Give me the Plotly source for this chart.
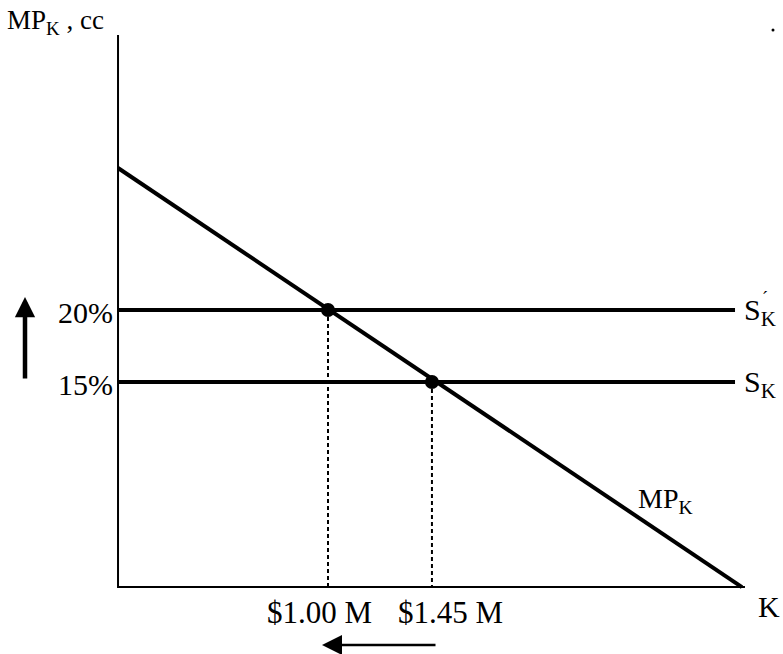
import plotly.graph_objects as go

# ---- data ----
k_equilibria = [1.00, 1.45]          # capital stock, $ millions
rate_equilibria = [20, 15]           # cost of capital, %
rate_levels = [20, 15]               # S'_K and S_K
supply_labels = ["S<sub>K</sub>", "S<sub>K</sub>"]
rate_tick_labels = ["20%", "15%"]
k_tick_labels = ["$1.00 M", "$1.45 M"]
mpk_k = [0.091, 2.792]               # MP_K schedule end points
mpk_rate = [29.86, 0.76]

K0, R0 = 0.091, 0.76                 # axis origin
K_END, R_END = 2.805, 39.1           # axis ends
S_END = 2.762                        # supply lines end

FONT = "Liberation Serif, Times New Roman, serif"

# page-pixel helpers for placing annotations (layout only)
def PX(p):
    return 1 + (p - 328) / 231

def PY(p):
    return 15 + (382 - p) / 14.4

fig = go.Figure()

# axes
fig.add_trace(go.Scatter(x=[K0, K0, K_END], y=[R_END, R0, R0], mode="lines",
                         line=dict(color="black", width=2), hoverinfo="skip"))
# supply lines
for r in rate_levels:
    fig.add_trace(go.Scatter(x=[K0, S_END], y=[r, r], mode="lines",
                             line=dict(color="black", width=4), hoverinfo="skip"))
# MPK line
fig.add_trace(go.Scatter(x=mpk_k, y=mpk_rate, mode="lines",
                         line=dict(color="black", width=4), hoverinfo="skip"))
# dashed drop lines
for k, r in zip(k_equilibria, rate_equilibria):
    fig.add_trace(go.Scatter(x=[k, k], y=[r, R0], mode="lines",
                             line=dict(color="black", width=2, dash="4px,3px"),
                             hoverinfo="skip"))
# equilibrium points
fig.add_trace(go.Scatter(x=k_equilibria, y=rate_equilibria, mode="markers",
                         marker=dict(color="black", size=14), hoverinfo="skip"))
# stray dot top-right
fig.add_trace(go.Scatter(x=[PX(773)], y=[PY(30)], mode="markers",
                         marker=dict(color="black", size=3), hoverinfo="skip"))

ann = []
def txt(x, y, t, size=22, xa="center", ya="middle"):
    ann.append(dict(x=x, y=y, text=t, showarrow=False, xanchor=xa, yanchor=ya,
                    borderpad=0,
                    font=dict(family=FONT, size=size, color="black")))

txt(PX(6), PY(22), "MP<sub>K</sub>&nbsp;, cc", 27, "left")
for r, lab in zip(rate_levels, rate_tick_labels):
    txt(PX(114), r - 0.15, lab, 30, "right")
for r, lab in zip(rate_levels, supply_labels):
    txt(PX(743), r - 0.15, lab, 30, "left")
txt(PX(761), PY(298), "´", 18, "left")
txt(PX(665), PY(500), "MP<sub>K</sub>", 28, "center")
txt(PX(757), PY(606), "K", 30, "left")
for k, lab in zip([PX(319.5), PX(450)], k_tick_labels):
    txt(k, PY(612), lab, 31, "center")

# movement arrows
ann.append(dict(x=PX(25), y=PY(297), ax=PX(25), ay=PY(380), xref="x", yref="y",
                axref="x", ayref="y", showarrow=True, arrowhead=2, arrowsize=0.9,
                arrowwidth=4.5, arrowcolor="black", text="", standoff=0))
ann.append(dict(x=PX(322), y=PY(645), ax=PX(437), ay=PY(645), xref="x", yref="y",
                axref="x", ayref="y", showarrow=True, arrowhead=2, arrowsize=1.6,
                arrowwidth=2.5, arrowcolor="black", text="", standoff=0))

fig.update_layout(
    width=783, height=654, margin=dict(l=0, r=0, t=0, b=0),
    paper_bgcolor="white", plot_bgcolor="white", showlegend=False,
    annotations=ann,
    xaxis=dict(range=[PX(0), PX(783)], visible=False, fixedrange=True),
    yaxis=dict(range=[PY(654), PY(0)], visible=False, fixedrange=True),
)

fig.write_html(
    "out.html",
    config={"displayModeBar": False, "staticPlot": True},
    post_script="document.body.style.margin='0';"
                "document.documentElement.style.overflow='hidden';",
)
